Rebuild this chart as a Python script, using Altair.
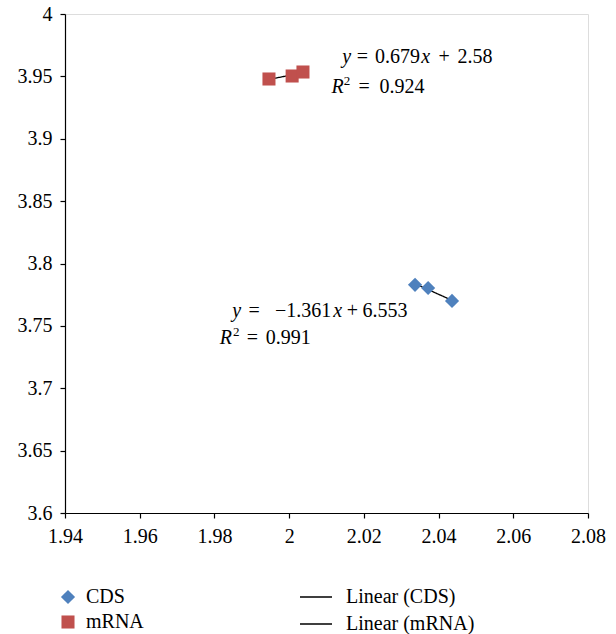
import altair as alt
import pandas as pd

# ---- data ----
series = ["CDS", "mRNA"]
trend_names = ["Linear (CDS)", "Linear (mRNA)"]
cds_x = [2.0337, 2.0372, 2.0436]
cds_y = [3.7829, 3.7804, 3.7700]
mrna_x = [1.9946, 2.0008, 2.0037]
mrna_y = [3.9479, 3.9503, 3.9535]
x_ticks = [1.94, 1.96, 1.98, 2.0, 2.02, 2.04, 2.06, 2.08]
y_ticks = [3.6, 3.65, 3.7, 3.75, 3.8, 3.85, 3.9, 3.95, 4.0]

# equation annotations: anchor (data coords, baseline) and text segments
ann_anchor_x = [2.01406, 2.01139, 1.98462, 1.98149]
ann_anchor_y = [3.9607, 3.9367, 3.7572, 3.7356]
ann_segments = [
    [("y", "italic"), ("=", "normal"), ("0.679", "normal"), ("x", "italic"), ("+", "normal"), ("2.58", "normal")],
    [("R", "italic"), ("2", "sup"), ("=", "normal"), ("0.924", "normal")],
    [("y", "italic"), ("=", "normal"), ("\u22121.361", "normal"), ("x", "italic"), ("+", "normal"), ("6.553", "normal")],
    [("R", "italic"), ("2", "sup"), ("=", "normal"), ("0.991", "normal")],
]
# centre offset of each segment from the anchor, in pixels
ann_dx = [
    [5, 20.8, 55.8, 84.1, 102.5, 133.3],
    [5.8, 15.3, 32.5, 70.3],
    [5, 22.5, 71.5, 106.0, 120.8, 153.3],
    [5.8, 16.3, 32.5, 68.3],
]

FONT = "Liberation Serif"
FS = 20
colors = ["#4F81BD", "#C0504D"]

pts = pd.DataFrame({
    "x": cds_x + mrna_x,
    "y": cds_y + mrna_y,
    "series": [series[0]] * len(cds_x) + [series[1]] * len(mrna_x),
    "trend": [trend_names[0]] * len(cds_x) + [trend_names[1]] * len(mrna_x),
})

xs = alt.Scale(domain=[x_ticks[0], x_ticks[-1]], nice=False, zero=False)
ys = alt.Scale(domain=[y_ticks[0], y_ticks[-1]], nice=False, zero=False)

x_enc = alt.X("x:Q", scale=xs, title=None,
              axis=alt.Axis(values=x_ticks, format="~g", labelPadding=8))
y_enc = alt.Y("y:Q", scale=ys, title=None,
              axis=alt.Axis(values=y_ticks, format="~g", labelPadding=8))

base = alt.Chart(pts)

pt_legend = alt.Legend(title=None, orient="none", legendX=-7, legendY=573,
                       labelFont=FONT, labelFontSize=FS, labelColor="black",
                       symbolSize=140, labelOffset=8, rowPadding=5, padding=0)

points = base.mark_point(filled=True, opacity=1).encode(
    x=x_enc,
    y=y_enc,
    shape=alt.Shape("series:N", scale=alt.Scale(domain=series, range=["diamond", "square"]),
                    legend=pt_legend),
    color=alt.Color("series:N", scale=alt.Scale(domain=series, range=colors),
                    legend=pt_legend),
    size=alt.Size("series:N", scale=alt.Scale(domain=series, range=[200, 170]), legend=None),
)

trend = base.transform_regression("x", "y", groupby=["trend"]).mark_line(
    color="black", strokeWidth=1.3
).encode(
    x=x_enc,
    y=y_enc,
    strokeDash=alt.StrokeDash(
        "trend:N", scale=alt.Scale(domain=trend_names, range=[[1, 0], [1, 0]]),
        legend=alt.Legend(title=None, orient="none", legendX=234, legendY=566,
                          labelFont=FONT, labelFontSize=FS, labelColor="black",
                          symbolType="stroke", symbolSize=1024, symbolStrokeColor="black",
                          symbolOpacity=1, labelOpacity=1,
                          symbolStrokeWidth=1.3, labelOffset=13, rowPadding=-8, padding=0)),
)

# annotation rows
rows = []
for ax, ay, segs, dxs in zip(ann_anchor_x, ann_anchor_y, ann_segments, ann_dx):
    for (txt, sty), dx in zip(segs, dxs):
        rows.append({"x": ax, "y": ay, "text": txt, "style": sty, "dx": dx})
ann = pd.DataFrame(rows)

layers = [trend, points]
for i, r in ann.iterrows():
    sty = r["style"]
    m = alt.Chart(ann.iloc[[i]]).mark_text(
        align="center", baseline="alphabetic", font=FONT,
        fontSize=13 if sty == "sup" else FS,
        fontStyle="italic" if sty == "italic" else "normal",
        color="black", dx=float(r["dx"]), dy=-8 if sty == "sup" else 0,
    ).encode(x=alt.X("x:Q", scale=xs), y=alt.Y("y:Q", scale=ys), text="text:N")
    layers.append(m)

chart = alt.layer(*layers).properties(
    width=523, height=499,
    autosize=alt.AutoSizeParams(type="none"),
    padding={"left": 65, "top": 14, "right": 28, "bottom": 121},
).configure_view(stroke=None).configure(background="white").configure_axis(
    grid=False, domainColor="black", tickColor="black", tickSize=5,
    labelFont=FONT, labelFontSize=FS, labelColor="black", labelFlush=False,
    domainWidth=1.2, tickWidth=1.2,
)

chart.save("out.html", embed_options={"renderer": "svg", "actions": False})
